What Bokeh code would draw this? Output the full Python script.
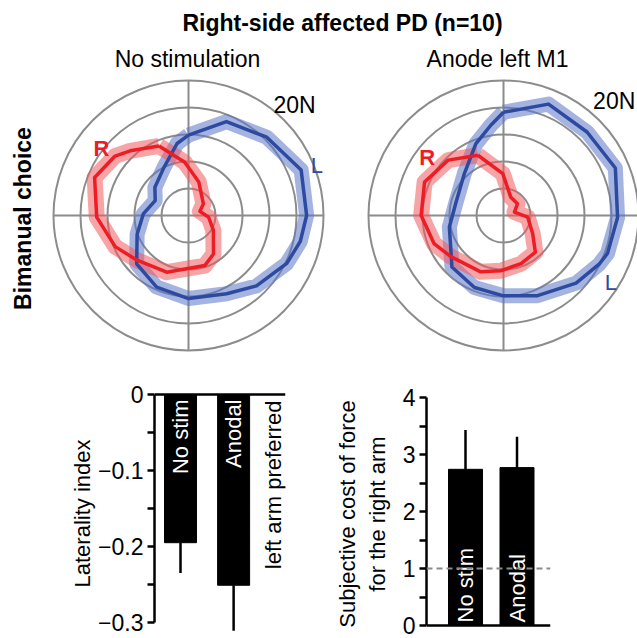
import numpy as np
from bokeh.plotting import figure
from bokeh.layouts import column, row
from bokeh.models import Range1d, Span, FixedTicker
from bokeh.core.properties import value
from bokeh.embed import file_html
from bokeh.resources import INLINE

FONT = "Liberation Sans"

# ---------------- data ----------------
main_title = "Right-side affected PD (n=10)"
panel_titles = ["No stimulation", "Anode left M1"]
row_label = "Bimanual choice"
ring_values = [4, 8, 12, 16, 20]          # N
ring_label = "20N"

# panel 1: no stimulation  (angle in degrees, radius in N)
nostim_L_angle = [90, 68, 45, 22, 0, -13, -26, -46, -64, -90, -114, -137, -160, 178, 156, 140, 117, 99]
nostim_L_force = [11.9, 15.0, 16.4, 18.0, 17.5, 17.0, 16.2, 14.5, 12.9, 12.3, 11.6, 10.5, 8.1, 6.7, 5.4, 6.5, 8.0, 10.8]
nostim_R_angle = [113, 94, 73, 38, 20, -5, -31, -57, -72, -111, -139, -157, -179, 158, 141, 132]
nostim_R_force = [11.2, 7.9, 5.2, 2.8, 1.8, 3.0, 4.3, 6.8, 7.8, 9.0, 10.1, 11.8, 13.6, 15.0, 14.0, 12.9]

# panel 2: anode left M1
anode_L_angle = [90, 68, 45, 23, -1, -20, -27, -43, -67, -90, -112, -135, -168, 166, 133, 111, 98]
anode_L_force = [15.3, 17.8, 17.5, 18.0, 16.9, 16.4, 15.9, 14.7, 12.9, 11.9, 11.5, 10.8, 8.2, 7.3, 8.5, 11.4, 13.5]
anode_R_angle = [113, 91, 68, 40, 17, -4, -32, -49, -70, -93, -112, -142, -158, 180, 157, 135]
anode_R_force = [9.7, 6.2, 2.9, 2.7, 1.7, 3.6, 5.1, 7.2, 7.6, 8.2, 9.0, 9.9, 11.1, 12.2, 12.7, 11.6]

categories = ["No stim", "Anodal"]
laterality = [-0.195, -0.251]
laterality_err = [0.040, 0.060]
lat_ticks = [0, -0.1, -0.2, -0.3]
lat_minor = [-0.05, -0.15, -0.25]
lat_note = "left arm preferred"

cost = [2.74, 2.77]
cost_err = [0.69, 0.54]
cost_ticks = [0, 1, 2, 3, 4]
cost_minor = [0.5, 1.5, 2.5, 3.5]
cost_ref = 1

# ---------------- styling ----------------
BLUE = "#2c4aa0"
BLUE_BAND = "#5a74c4"
RED = "#ee1c25"
RED_BAND = "#f05a5e"
GRID = "#8c8c8c"

W = 637
H_TOP = 365
H_BOT = W + 1 - H_TOP  # 273
PX = 6.75  # pixels per N
cx1_px, cy_px, cx2_px = 188, 215, 503

top = figure(width=W, height=H_TOP,
             x_range=Range1d(-cx1_px / PX, (W - cx1_px) / PX),
             y_range=Range1d(-(H_TOP - cy_px) / PX, cy_px / PX),
             output_backend="svg", toolbar_location=None, min_border=0,
             x_axis_location=None, y_axis_location=None, frame_align=False)
top.outline_line_color = None
top.grid.visible = False

centers = [0.0, (cx2_px - cx1_px) / PX]
rmax = max(ring_values)


def polar_xy(cx, ang, rad):
    a = np.radians(np.array(ang + ang[:1], dtype=float))
    r = np.array(rad + rad[:1], dtype=float)
    return cx + r * np.cos(a), r * np.sin(a)


panels = [
    (nostim_L_angle, nostim_L_force, nostim_R_angle, nostim_R_force),
    (anode_L_angle, anode_L_force, anode_R_angle, anode_R_force),
]

for cx, (la, lf, ra, rf) in zip(centers, panels):
    top.circle(x=[cx] * len(ring_values), y=[0] * len(ring_values), radius=ring_values,
               fill_color=None, line_color=GRID, line_width=2)
    top.segment(x0=[cx - rmax, cx], y0=[0, -rmax], x1=[cx + rmax, cx], y1=[0, rmax],
                line_color=GRID, line_width=2)
    lx, ly = polar_xy(cx, la, lf)
    rx, ry = polar_xy(cx, ra, rf)
    top.line(lx, ly, line_color=BLUE_BAND, line_alpha=0.55, line_width=15, line_join="round")
    top.line(rx, ry, line_color=RED_BAND, line_alpha=0.55, line_width=16, line_join="round")
    top.line(lx, ly, line_color=BLUE, line_width=3.5, line_join="round")
    top.line(rx, ry, line_color=RED, line_width=3.5, line_join="round")

# titles
top.text(x=[(342 - cx1_px) / PX], y=[(cy_px - 22) / PX], text=[main_title],
         text_font=value(FONT), text_font_size="23px", text_font_style="bold",
         text_align="center", text_baseline="middle", text_color="black")
top.text(x=[(187 - cx1_px) / PX, (497 - cx1_px) / PX], y=[(cy_px - 58) / PX] * 2, text=panel_titles,
         text_font=value(FONT), text_font_size="23px",
         text_align="center", text_baseline="middle", text_color="black")
top.text(x=[(22 - cx1_px) / PX], y=[(cy_px - 218) / PX], text=[row_label], angle=np.pi / 2,
         text_font=value(FONT), text_font_size="23px", text_font_style="bold",
         text_align="center", text_baseline="middle", text_color="black")
# ring labels
top.text(x=[centers[0] + 15.7, centers[1] + 16.4], y=[16.4, 17.0], text=[ring_label] * 2,
         text_font=value(FONT), text_font_size="23px",
         text_align="center", text_baseline="middle", text_color="black")
# arm labels
top.text(x=[centers[0] - 12.9, centers[1] - 11.3], y=[9.9, 8.6], text=["R", "R"],
         text_font=value(FONT), text_font_size="22px", text_font_style="bold",
         text_align="center", text_baseline="middle", text_color=RED)
top.text(x=[centers[0] + 19.0, centers[1] + 15.9], y=[7.4, -9.9], text=["L", "L"],
         text_font=value(FONT), text_font_size="22px",
         text_align="center", text_baseline="middle", text_color=BLUE)


def style_axis(ax):
    ax.axis_line_width = 2.5
    ax.axis_line_color = "black"
    ax.major_tick_line_width = 2.5
    ax.minor_tick_line_width = 2.5
    ax.major_tick_in = 0
    ax.major_tick_out = 7
    ax.minor_tick_in = 0
    ax.minor_tick_out = 7
    ax.major_label_text_font = FONT
    ax.major_label_text_font_size = "23px"
    ax.major_label_text_color = "black"
    ax.axis_label_text_font = FONT
    ax.axis_label_text_font_size = "22px"
    ax.axis_label_text_font_style = "normal"
    ax.axis_label_text_color = "black"
    ax.major_label_standoff = 4


# ---------- laterality bar chart ----------
LW = 318
lat_unit = 32.0
lat_x = [1.0, 2.66]
lat_px_per = 760.0
lb_left, lb_right, lb_top, lb_bot = 154, 33, 25, 2
lat_top = (394 - H_TOP - lb_top) / lat_px_per
lat_bottom = -(H_BOT - lb_bot + H_TOP - 394) / lat_px_per
frame_w = LW - lb_left - lb_right
x0 = lat_x[0] - (180 - 154) / lat_unit
left = figure(width=LW, height=H_BOT,
              x_range=Range1d(x0, x0 + frame_w / lat_unit),
              y_range=Range1d(lat_bottom, lat_top),
              output_backend="svg", toolbar_location=None, frame_align=False,
              x_axis_location=None, min_border_left=lb_left, min_border_right=lb_right,
              min_border_top=lb_top, min_border_bottom=lb_bot)
left.outline_line_color = None
left.grid.visible = False
left.yaxis.ticker = FixedTicker(ticks=lat_ticks, minor_ticks=lat_minor)
left.yaxis.bounds = (min(lat_ticks), max(lat_ticks))
left.yaxis.axis_label = "Laterality index"
style_axis(left.yaxis[0])
left.yaxis.axis_label_standoff = 0
left.add_layout(Span(location=0, dimension="width", line_color="black", line_width=2.5))
left.vbar(x=lat_x, top=[0, 0], bottom=laterality, width=1.0, fill_color="black", line_color="black")
left.segment(x0=lat_x, y0=laterality, x1=lat_x,
             y1=[v - e for v, e in zip(laterality, laterality_err)],
             line_color="black", line_width=2.5)
left.text(x=lat_x, y=[0, 0], text=categories, angle=np.pi / 2, y_offset=5,
          text_font=value(FONT), text_font_size="22px", text_color="white",
          text_align="right", text_baseline="middle")
left.text(x=[x0 + (273 - 154) / lat_unit], y=[0], text=[lat_note], angle=np.pi / 2, y_offset=6,
          text_font=value(FONT), text_font_size="22px", text_color="black",
          text_align="right", text_baseline="middle")

# ---------- subjective cost bar chart ----------
RW = W - LW
cost_unit = 34.0
cost_x = [1.0, 2.515]
zero_px, four_px = 625, 397
cost_px_per = (zero_px - four_px) / max(cost_ticks)
rb_left, rb_right, rb_top, rb_bot = 108, 87, four_px - H_TOP, 8
rframe_w = RW - rb_left - rb_right
rx0 = cost_x[0] - (465 - 426) / cost_unit
y_lo = -((H_TOP + H_BOT - rb_bot) - zero_px) / cost_px_per
right = figure(width=RW, height=H_BOT,
               x_range=Range1d(rx0, rx0 + rframe_w / cost_unit),
               y_range=Range1d(y_lo, max(cost_ticks)),
               output_backend="svg", toolbar_location=None, frame_align=False,
               x_axis_location=None, min_border_left=rb_left, min_border_right=rb_right,
               min_border_top=rb_top, min_border_bottom=rb_bot)
right.outline_line_color = None
right.grid.visible = False
right.yaxis.ticker = FixedTicker(ticks=cost_ticks, minor_ticks=cost_minor)
right.yaxis.bounds = (min(cost_ticks), max(cost_ticks))
right.yaxis.axis_label = "Subjective cost of force\nfor the right arm"
style_axis(right.yaxis[0])
right.yaxis.axis_label_standoff = 10
right.add_layout(Span(location=0, dimension="width", line_color="black", line_width=2.5))
right.add_layout(Span(location=cost_ref, dimension="width", line_color="#8a8a8a",
                      line_width=2, line_dash="6 4"))
right.vbar(x=cost_x, top=cost, bottom=[0, 0], width=1.0, fill_color="black", line_color="black")
right.segment(x0=cost_x, y0=cost, x1=cost_x,
              y1=[v + e for v, e in zip(cost, cost_err)],
              line_color="black", line_width=2.5)
right.text(x=cost_x, y=[0, 0], text=categories, angle=np.pi / 2, y_offset=-3,
           text_font=value(FONT), text_font_size="22px", text_color="white",
           text_align="left", text_baseline="middle")

layout = column(top, row(left, right))
open("out.html", "w").write(file_html(layout, INLINE))
